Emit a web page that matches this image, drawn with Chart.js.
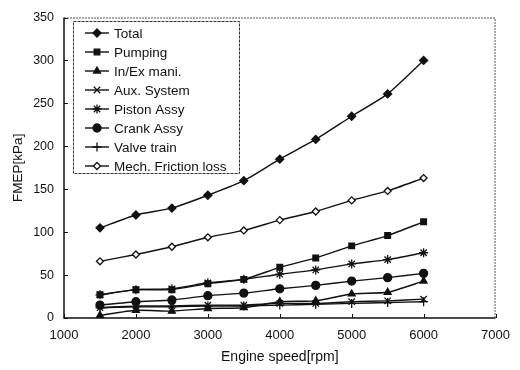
<!DOCTYPE html>
<html>
<head>
<meta charset="utf-8">
<script src="https://cdn.jsdelivr.net/npm/chart.js@4.4.1/dist/chart.umd.min.js"></script>
<style>
  html, body { margin: 0; padding: 0; background: #fff; }
  #wrap { width: 520px; height: 370px; }
</style>
</head>
<body>
<div id="wrap"><canvas id="fmepChart" width="520" height="370"></canvas></div>
<script>
// engine speed [rpm]
const speeds = [1500, 2000, 2500, 3000, 3500, 4000, 4500, 5000, 5500, 6000];

// friction mean effective pressure per component [kPa]
const total    = [105, 120, 128, 143, 160, 185, 208, 235, 261, 300];
const pumping  = [27, 33, 33, 40, 45, 59, 70, 84, 96, 112];
const inExMani = [3, 9, 8, 11, 12, 19, 20, 28, 30, 43];
const auxSys   = [12, 14, 14, 15, 15, 17, 17, 19, 20, 22];
const piston   = [27, 33, 34, 41, 45, 51, 56, 63, 68, 76];
const crank    = [15, 19, 21, 26, 29, 34, 38, 43, 47, 52];
const valve    = [12, 13, 13, 14, 14, 15, 16, 17, 18, 19];
const mechLoss = [66, 74, 83, 94, 102, 114, 124, 137, 148, 163];

const seriesNames = ['Total', 'Pumping', 'In/Ex mani.', 'Aux. System', 'Piston Assy',
                     'Crank Assy', 'Valve train', 'Mech. Friction loss'];

const xTicks = [1000, 2000, 3000, 4000, 5000, 6000, 7000];
const yTicks = [0, 50, 100, 150, 200, 250, 300, 350];

const FONT = '"Liberation Sans", Arial, sans-serif';
const INK = '#111';

function series(label, values, pointStyle, radius, fill) {
    return {
        label: label,
        data: values.map((v, i) => ({ x: speeds[i], y: v })),
        borderColor: INK,
        borderWidth: 1.4,
        backgroundColor: fill || INK,
        pointStyle: pointStyle,
        pointRadius: radius,
        pointBorderColor: INK,
        pointBorderWidth: 1.3,
        pointBackgroundColor: fill || INK,
        tension: 0.2,
        fill: false
    };
}

const datasets = [
    series(seriesNames[0], total, 'rectRot', 4),
    series(seriesNames[1], pumping, 'rect', 4),
    series(seriesNames[2], inExMani, 'triangle', 4),
    series(seriesNames[3], auxSys, 'crossRot', 4.5),
    series(seriesNames[4], piston, 'star', 4.5),
    series(seriesNames[5], crank, 'circle', 4),
    series(seriesNames[6], valve, 'cross', 4.5),
    series(seriesNames[7], mechLoss, 'rectRot', 3.5, '#fff')
];

// frame, inward ticks and the boxed legend inside the plot
const framePlugin = {
    id: 'frame',
    afterDraw(chart) {
        const ctx = chart.ctx;
        const a = chart.chartArea;
        const xs = chart.scales.x, ys = chart.scales.y;
        ctx.save();

        // top / right edges, dotted like the printed figure
        ctx.strokeStyle = '#555';
        ctx.lineWidth = 1;
        ctx.setLineDash([2, 1]);
        ctx.beginPath();
        ctx.moveTo(a.left, a.top + 0.5);
        ctx.lineTo(a.right - 0.5, a.top + 0.5);
        ctx.lineTo(a.right - 0.5, a.bottom);
        ctx.stroke();
        ctx.setLineDash([]);

        // left / bottom axis lines
        ctx.strokeStyle = INK;
        ctx.lineWidth = 1.5;
        ctx.beginPath();
        ctx.moveTo(a.left, a.top);
        ctx.lineTo(a.left, a.bottom);
        ctx.lineTo(a.right, a.bottom);
        ctx.stroke();

        // inward tick marks
        ctx.lineWidth = 1;
        ctx.beginPath();
        xTicks.forEach(v => {
            const px = Math.round(xs.getPixelForValue(v)) + 0.5;
            ctx.moveTo(px, a.bottom);
            ctx.lineTo(px, a.bottom - 4);
        });
        yTicks.forEach(v => {
            const py = Math.round(ys.getPixelForValue(v)) + 0.5;
            ctx.moveTo(a.left, py);
            ctx.lineTo(a.left + 4, py);
        });
        ctx.stroke();

        // legend box
        const lx = 73, ly = 21, lw = 166, lh = 152;
        ctx.fillStyle = '#fff';
        ctx.fillRect(lx, ly, lw, lh);
        ctx.strokeStyle = '#333';
        ctx.lineWidth = 1;
        ctx.setLineDash([3, 1]);
        ctx.strokeRect(lx + 0.5, ly + 0.5, lw, lh);
        ctx.setLineDash([]);

        ctx.font = '13.5px ' + FONT;
        ctx.textBaseline = 'middle';
        ctx.textAlign = 'left';
        chart.data.datasets.forEach((ds, i) => {
            const y = ly + 12 + i * 19;
            ctx.strokeStyle = INK;
            ctx.lineWidth = 1.4;
            ctx.beginPath();
            ctx.moveTo(lx + 12, y);
            ctx.lineTo(lx + 36, y);
            ctx.stroke();
            ctx.fillStyle = ds.pointBackgroundColor;
            ctx.strokeStyle = INK;
            ctx.lineWidth = 1.3;
            Chart.helpers.drawPoint(ctx, {
                pointStyle: ds.pointStyle,
                radius: ds.pointRadius,
                rotation: 0,
                borderWidth: 1.3
            }, lx + 24, y);
            ctx.fillStyle = INK;
            ctx.fillText(ds.label, lx + 41, y + 1);
        });

        ctx.restore();
    }
};

new Chart(document.getElementById('fmepChart'), {
    type: 'line',
    data: { datasets: datasets },
    options: {
        responsive: false,
        animation: false,
        layout: { padding: { left: 0, right: 15, top: 12, bottom: 0 } },
        plugins: {
            legend: { display: false },
            tooltip: { enabled: false }
        },
        scales: {
            x: {
                type: 'linear',
                min: 1000,
                max: 7000,
                afterBuildTicks: scale => { scale.ticks = xTicks.map(v => ({ value: v })); },
                afterFit: scale => { scale.height = 52; },
                grid: { display: false, drawTicks: false },
                border: { display: false },
                ticks: {
                    color: INK,
                    font: { family: FONT, size: 13 },
                    padding: 10,
                    maxRotation: 0,
                    callback: v => String(v)
                },
                title: {
                    display: true,
                    text: 'Engine speed[rpm]',
                    color: INK,
                    font: { family: FONT, size: 14 },
                    padding: { top: 2, bottom: 4 }
                }
            },
            y: {
                min: 0,
                max: 350,
                afterBuildTicks: scale => { scale.ticks = yTicks.map(v => ({ value: v })); },
                afterFit: scale => { scale.width = 64; },
                grid: { display: false, drawTicks: false },
                border: { display: false },
                ticks: {
                    color: INK,
                    font: { family: FONT, size: 12.5 },
                    padding: 10,
                    callback: v => String(v)
                },
                title: {
                    display: true,
                    text: 'FMEP[kPa]',
                    color: INK,
                    font: { family: FONT, size: 13.5 },
                    padding: { top: 10, bottom: 4 }
                }
            }
        }
    },
    plugins: [framePlugin]
});
</script>
</body>
</html>
